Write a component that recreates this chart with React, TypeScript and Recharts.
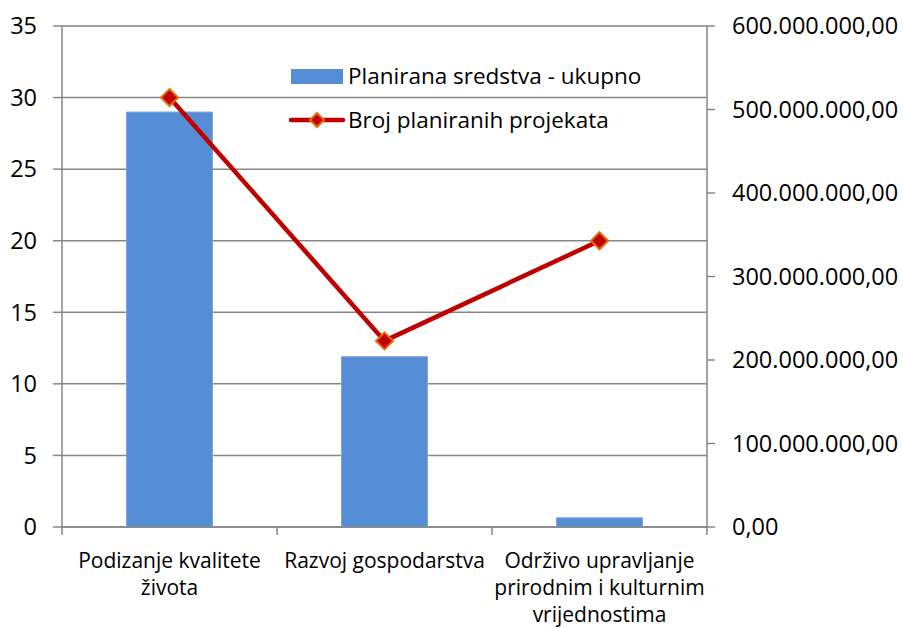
import { ComposedChart, Bar, Line, XAxis, YAxis, CartesianGrid, Legend } from 'recharts';

// categories (line breaks as in the original chart)
const categories = [
  'Podizanje kvalitete\nživota',
  'Razvoj gospodarstva',
  'Održivo upravljanje\nprirodnim i kulturnim\nvrijednostima',
];
// Planirana sredstva - ukupno (right axis)
const plannedFunds = [497000000, 204000000, 11000000];
// Broj planiranih projekata (left axis)
const projectCounts = [30, 13, 20];

const leftTicks = [0, 5, 10, 15, 20, 25, 30, 35];
const rightTicks = [0, 100000000, 200000000, 300000000, 400000000, 500000000, 600000000];

const data = categories.map((name, i) => ({
  name,
  funds: plannedFunds[i],
  projects: projectCounts[i],
}));

const GRID = '#868686';
const BAR = '#558ED5';
const LINE = '#C00000';
const MARKER_EDGE = '#E46C0A';

const PLOT_LEFT = 62;
const PLOT_RIGHT = 707;
const BAND = (PLOT_RIGHT - PLOT_LEFT) / categories.length;
const MARKER = 8.5;

function formatMoney(value: number): string {
  const s = Math.round(value).toString().replace(/\B(?=(\d{3})+(?!\d))/g, '.');
  return `${s},00`;
}

function Diamond({ cx, cy, size }: any) {
  if (cx == null || cy == null) return null;
  const r = size ?? MARKER;
  return (
    <polygon
      points={`${cx},${cy - r} ${cx + r},${cy} ${cx},${cy + r} ${cx - r},${cy}`}
      fill={LINE}
      stroke={MARKER_EDGE}
      strokeWidth={2}
    />
  );
}

function CategoryTick({ x, y, payload, index }: any) {
  const lines = String(payload.value).split('\n');
  return (
    <g>
      <line x1={x - BAND / 2} y1={y} x2={x - BAND / 2} y2={y + 8} stroke={GRID} strokeWidth={1.5} />
      {index === categories.length - 1 && (
        <line x1={x + BAND / 2} y1={y} x2={x + BAND / 2} y2={y + 8} stroke={GRID} strokeWidth={1.5} />
      )}
      <text x={x} y={y} textAnchor="middle" fill="#000" fontSize={21}>
        {lines.map((ln, i) => (
          <tspan key={i} x={x} y={y + 41 + i * 27}>
            {ln}
          </tspan>
        ))}
      </text>
    </g>
  );
}

// bar entry first, like the original legend
const legendOrder = ['funds', 'projects'];

function LegendContent({ payload }: any) {
  const items = [...(payload || [])].sort(
    (a: any, b: any) => legendOrder.indexOf(a.dataKey) - legendOrder.indexOf(b.dataKey)
  );
  return (
    <div style={{ fontSize: 22.5, color: '#000', lineHeight: '26px' }}>
      {items.map((entry: any, i: number) => (
        <div key={i} style={{ display: 'flex', alignItems: 'center', height: 44 }}>
          <svg width={58} height={24} style={{ marginRight: 2 }}>
            {entry.dataKey === 'funds' ? (
              <rect x={3} y={5} width={52} height={15} fill={BAR} />
            ) : (
              <g>
                <line x1={3} y1={12} x2={55} y2={12} stroke={LINE} strokeWidth={4.5} strokeLinecap="round" />
                <Diamond cx={29} cy={12} size={7} />
              </g>
            )}
          </svg>
          <span>{entry.value}</span>
        </div>
      ))}
    </div>
  );
}

export default function App() {
  return (
    <div
      style={{
        position: 'absolute',
        left: 0,
        top: 0,
        width: 903,
        height: 628,
        background: '#fff',
        fontFamily: '"Open Sans", sans-serif',
      }}
    >
      <ComposedChart
        width={903}
        height={628}
        data={data}
        margin={{ top: 26, right: 0, bottom: 0, left: 0 }}
        barCategoryGap="30%"
      >
        <CartesianGrid yAxisId="left" vertical={false} stroke={GRID} strokeWidth={1.5} />
        <XAxis
          dataKey="name"
          height={101}
          tickSize={0}
          tickMargin={0}
          axisLine={{ stroke: GRID, strokeWidth: 1.5 }}
          tickLine={false}
          tick={<CategoryTick />}
          interval={0}
        />
        <YAxis
          yAxisId="left"
          orientation="left"
          width={62}
          domain={[0, 35]}
          ticks={leftTicks}
          tickSize={9}
          tickMargin={16}
          axisLine={{ stroke: GRID, strokeWidth: 1.5 }}
          tickLine={{ stroke: GRID, strokeWidth: 1.5 }}
          tick={{ fill: '#000', fontSize: 23.5 }}
        />
        <YAxis
          yAxisId="right"
          orientation="right"
          width={196}
          domain={[0, 600000000]}
          ticks={rightTicks}
          tickFormatter={formatMoney}
          tickSize={8}
          tickMargin={17}
          axisLine={{ stroke: GRID, strokeWidth: 1.5 }}
          tickLine={{ stroke: GRID, strokeWidth: 1.5 }}
          tick={{ fill: '#000', fontSize: 23.5 }}
        />
        <Legend
          layout="vertical"
          verticalAlign="middle"
          align="center"
          wrapperStyle={{ left: 288, top: 54, width: 420 }}
          content={<LegendContent />}
        />
        <Bar
          yAxisId="right"
          dataKey="funds"
          name="Planirana sredstva - ukupno"
          fill={BAR}
          stroke="#7FA6DE"
          strokeWidth={1}
          legendType="rect"
          isAnimationActive={false}
        />
        <Line
          yAxisId="left"
          dataKey="projects"
          name="Broj planiranih projekata"
          type="linear"
          stroke={LINE}
          strokeWidth={4.5}
          dot={<Diamond />}
          activeDot={false}
          legendType="diamond"
          isAnimationActive={false}
        />
      </ComposedChart>
    </div>
  );
}
